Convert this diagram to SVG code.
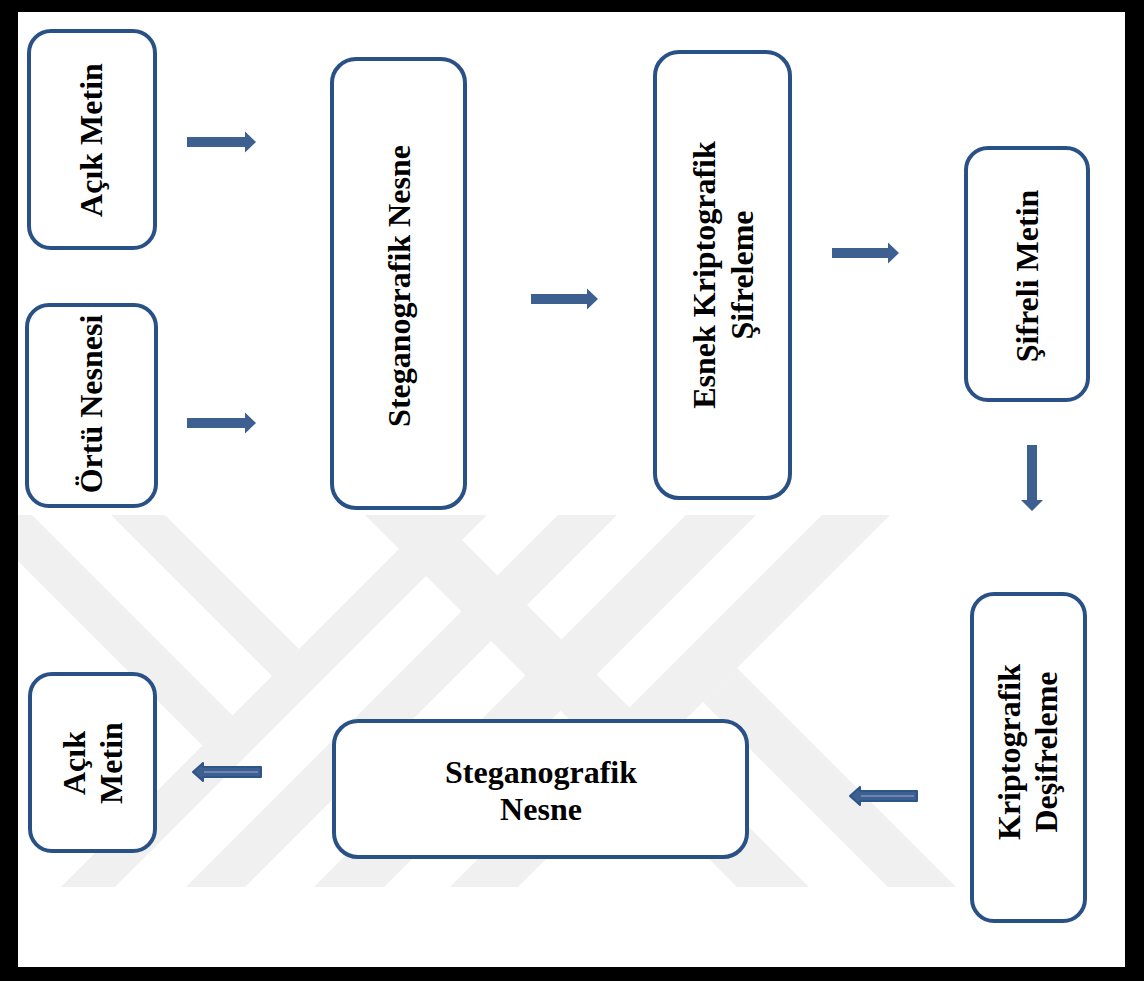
<svg xmlns="http://www.w3.org/2000/svg" width="1144" height="981" viewBox="0 0 1144 981">
<defs>
<style>
.box{fill:#ffffff;stroke:#2a5185;stroke-width:4}
.lbl{font-family:"Liberation Serif","Times New Roman",serif;font-weight:bold;font-size:32px;fill:#000;text-anchor:middle}
.arr{fill:#3d6091}
.larr{fill:#3d6091;stroke:#2f5588;stroke-width:2;stroke-linejoin:round}
.lline{stroke:#7894c0;stroke-width:1.5;fill:none}
.wm{fill:#f0f0f0}
</style>
<clipPath id="wmclip"><rect x="18" y="515" width="1107" height="372"/></clipPath>
</defs>
<rect x="0" y="0" width="1144" height="981" fill="#000"/>
<rect x="18" y="12" width="1107" height="955" fill="#fff"/>
<g id="watermark" clip-path="url(#wmclip)" class="wm">
<polygon points="-63,480 -3,480 232.5,715.5 202.5,745.5"/>
<polygon points="76,480 130,480 299,649 272,676"/>
<polygon points="468,480 522,480 82,920 28,920"/>
<polygon points="330,480 402,480 842,920 770,920"/>
<polygon points="593,480 652,480 212,920 153,920"/>
<polygon points="721,480 791,480 351,920 281,920"/>
<polygon points="857,480 925,480 485,920 417,920"/>
<polygon points="737,668 989,920 921,920 703,702"/>
</g>
<g id="connectors">
<polygon class="arr" points="187,137 245,137 245,131.5 256,142 245,152.5 245,147 187,147"/>
<polygon class="arr" points="187,418 245,418 245,412.5 256,423 245,433.5 245,428 187,428"/>
<polygon class="arr" points="531,294 587,294 587,288.5 598,299 587,309.5 587,304 531,304"/>
<polygon class="arr" points="832,248 888,248 888,242.5 899,253 888,263.5 888,258 832,258"/>
<polygon class="arr" points="1027,445 1037,445 1037,500 1043,500 1032,511 1021,500 1027,500"/>
<path class="larr" d="M261,767 L203,767 L203,763 L193,772 L203,781 L203,777 L261,777 Z"/>
<line class="lline" x1="204" y1="772" x2="258" y2="772"/>
<path class="larr" d="M917,791 L860,791 L860,787 L850,796 L860,805 L860,801 L917,801 Z"/>
<line class="lline" x1="861" y1="796" x2="914" y2="796"/>
</g>
<g id="node-acik-metin-1">
<rect class="box" x="29" y="31" width="126" height="217" rx="22"/>
<text class="lbl" transform="translate(102,140) rotate(-90)">Açık Metin</text>
</g>
<g id="node-ortu-nesnesi">
<rect class="box" x="27" y="305" width="129" height="201" rx="22"/>
<text class="lbl" transform="translate(102,404) rotate(-90)">Örtü Nesnesi</text>
</g>
<g id="node-steganografik-1">
<rect class="box" x="332" y="59" width="133" height="449" rx="24"/>
<text class="lbl" transform="translate(410,286) rotate(-90)">Steganografik Nesne</text>
</g>
<g id="node-esnek">
<rect class="box" x="655" y="52" width="135" height="446" rx="24"/>
<text class="lbl" transform="translate(715,275) rotate(-90)">Esnek Kriptografik</text>
<text class="lbl" transform="translate(753,275) rotate(-90)">Şifreleme</text>
</g>
<g id="node-sifreli-metin">
<rect class="box" x="966" y="148" width="122" height="252" rx="22"/>
<text class="lbl" transform="translate(1038,276) rotate(-90)">Şifreli Metin</text>
</g>
<g id="node-kriptografik-desifreleme">
<rect class="box" x="972" y="594" width="113" height="327" rx="22"/>
<text class="lbl" transform="translate(1020,752) rotate(-90)">Kriptografik</text>
<text class="lbl" transform="translate(1057,752) rotate(-90)">Deşifreleme</text>
</g>
<g id="node-steganografik-2">
<rect class="box" x="334" y="721" width="413" height="136" rx="24"/>
<text class="lbl" x="541" y="783">Steganografik</text>
<text class="lbl" x="541" y="820">Nesne</text>
</g>
<g id="node-acik-metin-2">
<rect class="box" x="30" y="674" width="125" height="177" rx="22"/>
<text class="lbl" transform="translate(85,763) rotate(-90)">Açık</text>
<text class="lbl" transform="translate(122,763) rotate(-90)">Metin</text>
</g>
</svg>
